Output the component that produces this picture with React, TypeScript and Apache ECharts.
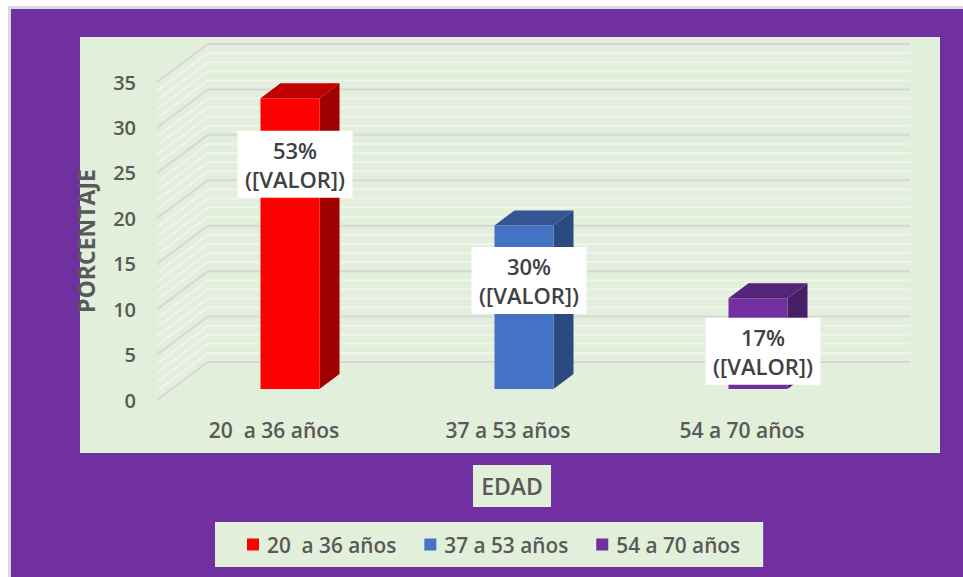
import React, { useEffect, useRef } from "react";
import * as echarts from "echarts";

const categories = ["20  a 36 años", "37 a 53 años", "54 a 70 años"];
const values = [32, 18, 10];
const percentLabels = ["53%", "30%", "17%"];
const yTicks = [0, 5, 10, 15, 20, 25, 30, 35];
const wallLines = [
  0, 1, 2, 3, 4, 5, 6, 7, 8, 9, 10, 11, 12, 13, 14, 15, 16, 17, 18, 19, 20, 21, 22, 23, 24, 25, 26, 27, 28, 29, 30, 31, 32,
  33, 34, 35,
];
const xAxisTitle = "EDAD";

const FONT = "'Open Sans', 'Noto Sans', sans-serif";
const TEXT = "#595959";
const PANEL = "#E2EFDA";
const palette = [
  { front: "#FF0000", top: "#BF0000", side: "#A00000" },
  { front: "#4472C4", top: "#335593", side: "#2A4A80" },
  { front: "#7030A0", top: "#542478", side: "#471F66" },
];
const WALL_DX = 51;
const WALL_DY = 38;
const BAR_W = 59;
const BAR_SHIFT_X = 16;
const BAR_SHIFT_Y = 11;
const DEPTH_X = 20;
const DEPTH_Y = 15;
const LABEL_W = 115;
const LABEL_H = 67;
const LABEL_SHIFT_X = 21;
const labelDrop = [66, 55, 53];

const barSeries = (i: number) => ({
  type: "custom",
  name: categories[i],
  coordinateSystem: "cartesian2d",
  clip: false,
  silent: true,
  itemStyle: { color: palette[i].front },
  data: [[i, values[i]]],
  encode: { x: 0, y: 1 },
  z: 5,
  renderItem: (_p: any, api: any) => {
    const top = api.coord([api.value(0), api.value(1)]);
    const base = api.coord([api.value(0), 0]);
    const x0 = top[0] + BAR_SHIFT_X - BAR_W / 2;
    const x1 = x0 + BAR_W;
    const y0 = top[1] - BAR_SHIFT_Y;
    const y1 = base[1] - BAR_SHIFT_Y;
    const c = palette[i];
    const lx = top[0] + LABEL_SHIFT_X;
    const ly = y0 + labelDrop[i];
    return {
      type: "group",
      children: [
        {
          type: "polygon",
          shape: { points: [[x1, y0], [x1 + DEPTH_X, y0 - DEPTH_Y], [x1 + DEPTH_X, y1 - DEPTH_Y], [x1, y1]] },
          style: { fill: c.side },
        },
        {
          type: "polygon",
          shape: { points: [[x0, y0], [x0 + DEPTH_X, y0 - DEPTH_Y], [x1 + DEPTH_X, y0 - DEPTH_Y], [x1, y0]] },
          style: { fill: c.top },
        },
        { type: "rect", shape: { x: x0, y: y0, width: BAR_W, height: y1 - y0 }, style: { fill: c.front } },
        {
          type: "rect",
          shape: { x: lx - LABEL_W / 2, y: ly - LABEL_H / 2, width: LABEL_W, height: LABEL_H },
          style: { fill: "#FFFFFF" },
        },
        {
          type: "text",
          style: {
            text: percentLabels[i] + "\n([VALOR])",
            x: lx,
            y: ly,
            align: "center",
            verticalAlign: "middle",
            fontFamily: FONT,
            fontSize: 22,
            fontWeight: 600,
            lineHeight: 29,
            fill: "#404040",
          },
        },
      ],
    };
  },
});

const wallSeries = {
  type: "custom",
  name: "walls",
  coordinateSystem: "cartesian2d",
  clip: false,
  silent: true,
  z: 1,
  data: wallLines.map((v) => [0, v]),
  encode: { x: 0, y: 1 },
  renderItem: (p: any, api: any) => {
    const v = api.value(1);
    const y = api.coord([0, v])[1];
    const xs = p.coordSys.x;
    const w = p.coordSys.width;
    const major = v % 5 === 0;
    return {
      type: "polyline",
      z2: major ? 2 : 1,
      shape: {
        points: [
          [xs, y],
          [xs + WALL_DX, y - WALL_DY],
          [xs + WALL_DX + w, y - WALL_DY],
        ],
      },
      style: { fill: "none", stroke: major ? "#D8D6DC" : "#F1F2F1", lineWidth: 2 },
    };
  },
};

const option = {
  animation: false,
  backgroundColor: "#FFFFFF",
  textStyle: { fontFamily: FONT },
  graphic: [
    { type: "rect", z: -3, shape: { x: 8, y: 6, width: 955, height: 571 }, style: { fill: "#D9D9D9" } },
    { type: "rect", z: -2, shape: { x: 11, y: 9, width: 952, height: 568 }, style: { fill: "#7030A0" } },
    { type: "rect", z: -1, shape: { x: 80, y: 37, width: 860, height: 416 }, style: { fill: PANEL } },
    { type: "rect", z: -1, shape: { x: 473, y: 465, width: 78, height: 42 }, style: { fill: PANEL } },
    {
      type: "text",
      z: 2,
      x: 512,
      y: 486,
      style: {
        text: xAxisTitle,
        align: "center",
        verticalAlign: "middle",
        fontFamily: FONT,
        fontSize: 23,
        fontWeight: 600,
        fill: TEXT,
      },
    },
  ],
  grid: { left: 157, top: 82, width: 702, height: 318, containLabel: false },
  legend: {
    data: categories,
    left: 215,
    top: 522,
    padding: [12, 23, 12, 32],
    backgroundColor: PANEL,
    icon: "rect",
    itemWidth: 12,
    itemHeight: 12,
    itemGap: 28,
    selectedMode: false,
    textStyle: { color: TEXT, fontFamily: FONT, fontSize: 20.8, fontWeight: 600, padding: [0, 0, 0, 3] },
  },
  xAxis: {
    type: "category",
    data: categories,
    axisLine: { show: false },
    axisTick: { show: false },
    splitLine: { show: false },
    axisLabel: { color: TEXT, fontFamily: FONT, fontSize: 21, fontWeight: 600, margin: 19 },
  },
  yAxis: {
    type: "value",
    min: yTicks[0],
    max: yTicks[yTicks.length - 1],
    interval: 5,
    name: "PORCENTAJE",
    nameLocation: "middle",
    nameGap: 60,
    nameTextStyle: { color: TEXT, fontFamily: FONT, fontSize: 23, fontWeight: 700 },
    axisLine: { show: false },
    axisTick: { show: false },
    splitLine: { show: false },
    axisLabel: { color: TEXT, fontFamily: FONT, fontSize: 20, fontWeight: 600, margin: 21 },
  },
  series: [wallSeries, barSeries(0), barSeries(1), barSeries(2)],
};

export default function App() {
  const ref = useRef<HTMLDivElement>(null);
  useEffect(() => {
    const chart = echarts.init(ref.current as HTMLDivElement, undefined, { renderer: "svg" });
    chart.setOption(option as any);
    return () => chart.dispose();
  }, []);
  return <div ref={ref} style={{ position: "absolute", left: 0, top: 0, width: 963, height: 577 }} />;
}
